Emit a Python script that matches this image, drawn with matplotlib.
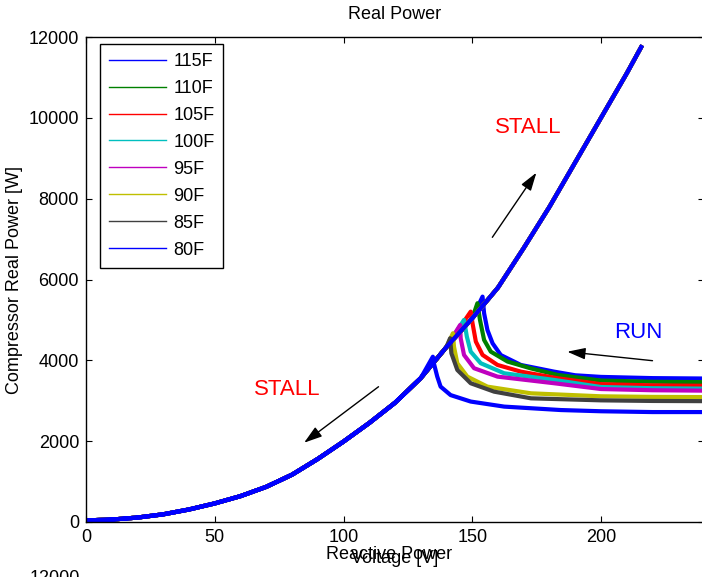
import matplotlib
matplotlib.use("Agg")
import matplotlib.pyplot as plt
from matplotlib.lines import Line2D

plt.rcParams["font.family"] = ["Liberation Sans", "DejaVu Sans"]
plt.rcParams["font.size"] = 13

# locked-rotor (stall) curve, shared by all temperatures
stall_v = [0, 10, 20, 30, 40, 50, 60, 70, 80, 90, 100, 110, 120, 130, 140,
           150, 160, 170, 180, 190, 200, 210, 215.6]
stall_p = [40, 60, 110, 190, 310, 460, 640, 870, 1170, 1560, 1990, 2450, 2950,
           3560, 4330, 5040, 5800, 6780, 7800, 8900, 10000, 11100, 11750]

labels = ["115F", "110F", "105F", "100F", "95F", "90F", "85F", "80F"]
colors = ["#0000ff", "#008000", "#ff0000", "#00bfbf", "#bf00bf", "#bfbf00",
          "#404040", "#0000ff"]

# running branch, voltage ramped down from 240 V until the compressor stalls
run_v = [
    [240, 220, 200, 190, 181.8, 168.9, 161.1, 157.9, 155.9, 154.6, 154.0],
    [240, 220, 200, 183.1, 172.8, 163.7, 157.2, 154.6, 153.0, 152.0],
    [240, 220, 200, 183.1, 168.9, 159.8, 154.0, 151.4, 150.1, 149.4],
    [240, 220, 200, 181.8, 162.4, 153.3, 149.4, 147.9, 146.8],
    [240, 220, 200, 181.8, 159.8, 150.7, 146.8, 145.5, 145.3],
    [240, 220, 200, 172.8, 155.9, 148.1, 144.2, 142.9, 142.5],
    [240, 220, 200, 172.8, 158.5, 149.4, 144.2, 141.9, 141.4],
    [240, 220, 200, 184.4, 162.4, 149.4, 141.6, 137.7, 136.4, 135.2, 134.7],
]
run_p = [
    [3550, 3560, 3590, 3630, 3720, 3885, 4130, 4420, 4750, 5165, 5577],
    [3460, 3470, 3500, 3640, 3800, 3970, 4215, 4505, 5000, 5413],
    [3370, 3380, 3410, 3557, 3720, 3886, 4134, 4463, 4920, 5205],
    [3300, 3310, 3340, 3515, 3680, 3928, 4215, 4587, 5000],
    [3250, 3260, 3290, 3433, 3597, 3805, 4134, 4547, 4876],
    [3090, 3095, 3110, 3184, 3349, 3597, 3928, 4340, 4670],
    [2990, 2995, 3010, 3060, 3225, 3433, 3762, 4175, 4547],
    [2720, 2720, 2740, 2770, 2855, 2980, 3140, 3350, 3600, 3900, 4090],
]

fig = plt.figure(figsize=(7.02, 5.77), dpi=100)
ax = fig.add_axes([86 / 702, 55 / 577, 618 / 702, 485 / 577])

for rv, rp, c in zip(run_v, run_p, colors):
    vstall = rv[-1]
    down = [(v, p) for v, p in zip(stall_v, stall_p) if v < vstall][::-1]
    up = list(zip(stall_v, stall_p))
    v = list(rv) + [d[0] for d in down] + [u[0] for u in up]
    p = list(rp) + [d[1] for d in down] + [u[1] for u in up]
    ax.plot(v, p, color=c, lw=3, solid_joinstyle="round")

ax.set_xlim(0, 240)
ax.set_ylim(0, 12000)
ax.set_xticks([0, 50, 100, 150, 200])
ax.set_yticks(range(0, 12001, 2000))
ax.tick_params(direction="in", length=4, width=0.8, top=True, right=True,
               pad=5, labelsize=13)
for s in ax.spines.values():
    s.set_linewidth(1.0)

ax.set_title("Real Power", fontsize=13, pad=13)
ax.set_xlabel("Voltage [V]", fontsize=13, labelpad=3)
ax.set_ylabel("Compressor Real Power [W]", fontsize=13, labelpad=4)

handles = [Line2D([], [], color=c, lw=1) for c in colors]
leg = ax.legend(handles, labels, loc="upper left", bbox_to_anchor=(0.0227, 0.9856),
                borderaxespad=0, fancybox=False, framealpha=1, edgecolor="black",
                handlelength=3.15, handletextpad=0.4, labelspacing=0.55,
                borderpad=0.5, fontsize=13)
leg.get_frame().set_linewidth(1.0)

ax.text(171.8, 9772, "STALL", color="red", fontsize=16, ha="center", va="center")
ax.text(78.2, 3266, "STALL", color="red", fontsize=16, ha="center", va="center")
ax.text(214.3, 4688, "RUN", color="#0000ff", fontsize=16, ha="center", va="center")

arrow = dict(arrowstyle="-|>,head_length=1.1,head_width=0.35", color="black",
             lw=1, shrinkA=0, shrinkB=0, mutation_scale=10)
ax.annotate("", xy=(174.9, 8642), xytext=(157.8, 7044), arrowprops=arrow)
ax.annotate("", xy=(84.7, 1962), xytext=(113.6, 3347), arrowprops=arrow)
ax.annotate("", xy=(186.9, 4213), xytext=(220.0, 3991), arrowprops=arrow)

# top of the next panel, cut by the page edge
fig.text(389 / 702, 1 - 559 / 577, "Reactive Power", ha="center", va="baseline",
         fontsize=13)
fig.text(80 / 702, 1 - 570 / 577, "12000", ha="right", va="top", fontsize=13)

fig.savefig("out.png", dpi=100)
